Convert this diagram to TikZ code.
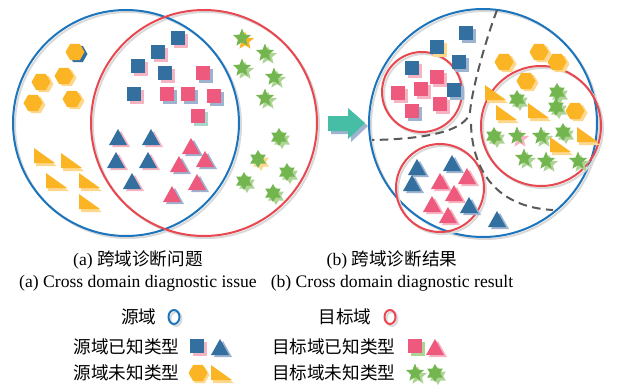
\documentclass[tikz,border=0pt]{standalone}
\usepackage{fontspec}
\setmainfont{Liberation Serif}
\newfontfamily\cjk{Noto Sans CJK SC}
\definecolor{sblue}{HTML}{33709F}
\definecolor{tpink}{HTML}{EE5A7E}
\definecolor{uorange}{HTML}{FBB424}
\definecolor{ugreen}{HTML}{73B54F}
\definecolor{cblue}{HTML}{1C75BC}
\definecolor{cred}{HTML}{E8474F}
\definecolor{arrteal}{HTML}{46BEA6}
\definecolor{shpink}{HTML}{F6B3C2}
\definecolor{shblue}{HTML}{9DB3CF}
\definecolor{shorange}{HTML}{FDD88C}
\definecolor{shgreen}{HTML}{ADD495}
\definecolor{shteal}{HTML}{A8D8CC}
\definecolor{shgray}{HTML}{D9D9D9}
\newcommand{\sqr}[3]{\fill[#3] (#1,#2) +(-7,-7) rectangle +(7,7);}
\newcommand{\tri}[3]{\fill[#3] (#1,#2) +(-9,8) -- +(9,8) -- +(0,-8) -- cycle;}
\newcommand{\rtri}[3]{\fill[#3] (#1,#2) -- +(0,15) -- +(21,15) -- cycle;}
\newcommand{\hexa}[3]{\fill[#3] (#1,#2) +(0:9.5) -- +(60:9.5) -- +(120:9.5) -- +(180:9.5) -- +(240:9.5) -- +(300:9.5) -- cycle;}
\newcommand{\starv}[3]{\fill[#3,shift={(#1,#2)}] plot[variable=\k,samples at={0,...,9}] ({-90+36*\k}:{9.5-5.3*mod(\k,2)}) -- cycle;}
\newcommand{\starvi}[3]{\fill[#3,shift={(#1,#2)}] plot[variable=\k,samples at={0,...,11}] ({-90+30*\k}:{9-3.8*mod(\k,2)}) -- cycle;}
\tikzset{ring/.style={line width=1.5}, dashline/.style={draw=black!65, line width=1.5pt, dash pattern=on 6.5pt off 4pt}}
\begin{document}
\begin{tikzpicture}[x=0.75pt,y=-0.75pt,font=\fontsize{13.2}{15}\selectfont, line join=round]
			\useasboundingbox (0,0) rectangle (629,386);
			% domain circles
			\draw[ring,shgray] (128,125) circle (113);
			\draw[ring,shgray] (206,125) circle (113);
			\draw[ring,cblue] (126,123) circle (113);
			\draw[ring,cred] (204,123) circle (113);
			\draw[ring,shgray] (485,125) circle (114);
			\draw[ring,cblue] (483,123) circle (114);
			\foreach \x/\y/\r in {422/92/40, 440/188/44, 541/126/60}
			{\draw[ring,shgray] (\x+2,\y+2) circle (\r); \draw[ring,cred] (\x,\y) circle (\r);}
			% (a) samples
			\foreach \x/\y in {178/38,158/52,138/66,165/73,134/94}
			{\sqr{\x+3}{\y+3}{shpink} \sqr{\x}{\y}{sblue}}
			\foreach \x/\y/\c in {203/73/shblue,167/94/shblue,188/94/shblue,214/96/shblue,198/116/shteal}
			{\sqr{\x+3}{\y+3}{\c} \sqr{\x}{\y}{tpink}}
			\foreach \x/\y in {118/137,151/137,116/160,148/160,132/181}
			{\tri{\x+3}{\y+2}{shpink} \tri{\x}{\y}{sblue}}
			\foreach \x/\y in {191/146,205/159,179/164,197/182,172/194}
			{\tri{\x+3}{\y+2}{shblue} \tri{\x}{\y}{tpink}}
			\foreach \x/\y/\c in {75/52/sblue,41/82/shorange,64/76/shorange,33/103/shorange,72/99/shorange}
			{\hexa{\x+3}{\y+2}{\c} \hexa{\x}{\y}{uorange}}
			\foreach \x/\y in {34/148,61/153,46/173,79/173,79/194}
			{\rtri{\x+2}{\y+3}{shorange} \rtri{\x}{\y}{uorange}}
			\foreach \x/\y/\c in {242/38/uorange,265/53/shgreen,242/68/shgreen,274/77/shgreen,265/98/shgreen}
			{\starv{\x+3}{\y+3}{\c} \starv{\x}{\y}{ugreen}}
			\foreach \x/\y/\c in {279/137/shgreen,258/159/shorange,287/172/shgreen,244/181/shgreen,273/193/shgreen}
			{\starvi{\x+3}{\y+3}{\c} \starvi{\x}{\y}{ugreen}}
			% arrow
			\fill[shblue] (331,119) -- (351,119) -- (351,111) -- (368,126) -- (351,142) -- (351,134) -- (331,134) -- cycle;
			\fill[arrteal] (328,116) -- (348,116) -- (348,108) -- (365,123) -- (348,139) -- (348,131) -- (328,131) -- cycle;
			% (b) samples
			\draw[dashline] (497,10) .. controls (484,45) and (472,90) .. (470,112) .. controls (466,130) and (430,139) .. (372,140);
			\draw[dashline] (471,124) .. controls (472,165) and (492,207) .. (553,210);
			\foreach \x/\y/\c in {466/33/shblue,437/47/shorange,459/62/shblue,412/68/shpink,454/90/shblue}
			{\sqr{\x+3}{\y+3}{\c} \sqr{\x}{\y}{sblue}}
			\foreach \x/\y/\c in {437/77/shpink,398/93/shpink,421/89/shpink,412/111/shblue,440/104/shpink}
			{\sqr{\x+3}{\y+3}{\c} \sqr{\x}{\y}{tpink}}
			\foreach \x/\y in {504/62,539/52,557/62,526/81,575/111}
			{\hexa{\x+3}{\y+2}{shorange} \hexa{\x}{\y}{uorange}}
			\foreach \x/\y in {485/85,496/105,528/103,550/137,577/127}
			{\rtri{\x+2}{\y+3}{shorange} \rtri{\x}{\y}{uorange}}
			\foreach \x/\y in {557/92,517/99,556/107,494/136,563/132}
			{\starvi{\x+3}{\y+3}{shgreen} \starvi{\x}{\y}{ugreen}}
			\foreach \x/\y/\c in {517/136/shpink,541/136/shgreen,524/158/shgreen,546/161/shgreen,578/161/shgreen}
			{\starv{\x+3}{\y+3}{\c} \starv{\x}{\y}{ugreen}}
			\foreach \x/\y in {417/167,452/163,412/183,469/205,497/219}
			{\tri{\x+3}{\y+2}{shblue} \tri{\x}{\y}{sblue}}
			\foreach \x/\y in {467/176,440/181,454/193,432/204,448/215}
			{\tri{\x+3}{\y+2}{shpink} \tri{\x}{\y}{tpink}}
			% captions
			\node (capa) at (138,260) {(a) {\cjk 跨域诊断问题}};
			\node (capaen) at (138,283) {(a) Cross domain diagnostic issue};
			\node (capb) at (392,260) {(b) {\cjk 跨域诊断结果}};
			\node (capben) at (392,283) {(b) Cross domain diagnostic result};
			% legend
			\node[anchor=east] (lsrc) at (161,317) {\cjk 源域};
			\node[anchor=east] (ltgt) at (376,317) {\cjk 目标域};
			\node[anchor=east] (lsrckn) at (184,347) {\cjk 源域已知类型};
			\node[anchor=east] (lsrcun) at (184,373) {\cjk 源域未知类型};
			\node[anchor=east] (ltgtkn) at (400,347) {\cjk 目标域已知类型};
			\node[anchor=east] (ltgtun) at (400,373) {\cjk 目标域未知类型};
			\draw[ring,shgray] (176,319) ellipse (5.5 and 7);
			\draw[ring,cblue] (174,317) ellipse (5.5 and 7);
			\draw[ring,shgray] (392,319) ellipse (5.5 and 7);
			\draw[ring,cred] (390,317) ellipse (5.5 and 7);
			\sqr{200}{349}{shpink} \sqr{197}{346}{sblue}
			\tri{223}{349}{shblue} \tri{220}{347}{sblue}
			\hexa{200}{375}{shorange} \hexa{198}{373}{uorange}
			\rtri{213}{368}{shorange} \rtri{211}{365}{uorange}
			\sqr{418}{349}{shgreen} \sqr{415}{346}{tpink}
			\tri{438}{349}{shpink} \tri{435}{347}{tpink}
			\starv{418}{376}{shgreen} \starv{415}{373}{ugreen}
			\starvi{438}{376}{shgreen} \starvi{435}{373}{ugreen}
\end{tikzpicture}
\end{document}
